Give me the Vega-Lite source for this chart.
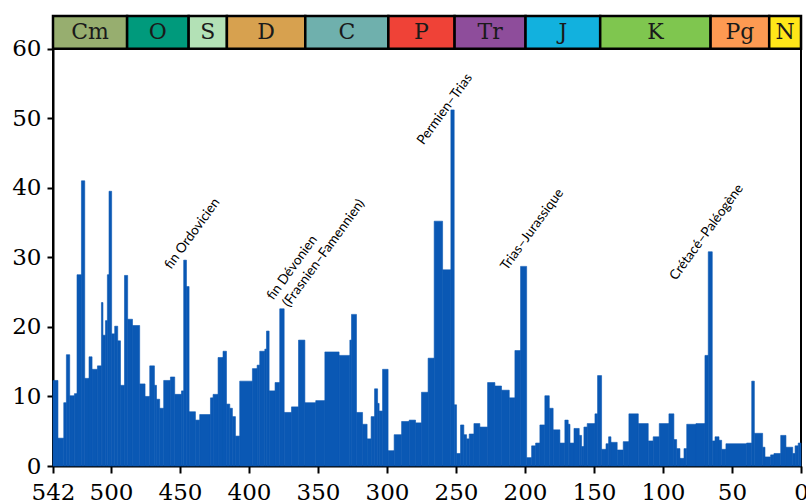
{
  "$schema": "https://vega.github.io/schema/vega-lite/v6.json",
  "width": 748,
  "height": 450,
  "autosize": "none",
  "padding": {"left": 53, "top": 16, "right": 5, "bottom": 38},
  "background": "white",
  "config": {
    "view": {"stroke": "black", "strokeWidth": 2},
    "axis": {
      "domainColor": "black", "domainWidth": 2, "tickColor": "black", "tickWidth": 2,
      "labelFont": "DejaVu Serif", "labelFontSize": 23, "labelColor": "black", "grid": false, "title": null
    }
  },
  "datasets": {
    "bars": [
      {"s":542,"e":538.4,"v":12.3},{"s":538.4,"e":534.2,"v":4.0},{"s":534.2,"e":532.3,"v":9.1},{"s":532.3,"e":529.9,"v":16.0},
      {"s":529.9,"e":526.5,"v":10.1},{"s":526.5,"e":524.6,"v":10.4},{"s":524.6,"e":521.4,"v":27.5},{"s":521.4,"e":519.0,"v":41.0},
      {"s":519.0,"e":515.9,"v":12.6},{"s":515.9,"e":513.7,"v":15.7},{"s":513.7,"e":509.8,"v":13.9},{"s":509.8,"e":506.9,"v":14.4},
      {"s":506.9,"e":505.8,"v":23.5},{"s":505.8,"e":504.0,"v":18.8},{"s":504.0,"e":502.6,"v":20.9},{"s":502.6,"e":501.4,"v":27.5},
      {"s":501.4,"e":499.5,"v":39.5},{"s":499.5,"e":497.3,"v":19.0},{"s":497.3,"e":495.1,"v":20.1},{"s":495.1,"e":493.1,"v":18.0},
      {"s":493.1,"e":490.2,"v":11.6},{"s":490.2,"e":487.9,"v":27.4},{"s":487.9,"e":484.4,"v":21.1},{"s":484.4,"e":479.2,"v":20.2},
      {"s":479.2,"e":475.3,"v":11.8},{"s":475.3,"e":471.9,"v":10.0},{"s":471.9,"e":468.5,"v":14.4},{"s":468.5,"e":467.0,"v":11.6},
      {"s":467.0,"e":464.7,"v":9.6},{"s":464.7,"e":461.8,"v":8.3},{"s":461.8,"e":456.9,"v":12.3},{"s":456.9,"e":453.8,"v":12.8},
      {"s":453.8,"e":448.9,"v":10.3},{"s":448.9,"e":447.3,"v":10.8},{"s":447.3,"e":445.3,"v":29.6},{"s":445.3,"e":443.4,"v":25.8},
      {"s":443.4,"e":438.8,"v":7.8},{"s":438.8,"e":435.7,"v":6.6},{"s":435.7,"e":427.9,"v":7.4},{"s":427.9,"e":426.0,"v":9.8},
      {"s":426.0,"e":422.4,"v":10.3},{"s":422.4,"e":418.8,"v":15.6},{"s":418.8,"e":416.3,"v":16.5},{"s":416.3,"e":413.9,"v":8.9},
      {"s":413.9,"e":412.0,"v":8.3},{"s":412.0,"e":409.8,"v":7.1},{"s":409.8,"e":406.7,"v":4.3},{"s":406.7,"e":397.5,"v":12.2},
      {"s":397.5,"e":394.1,"v":14.0},{"s":394.1,"e":392.2,"v":14.5},{"s":392.2,"e":388.5,"v":16.5},{"s":388.5,"e":387.3,"v":16.8},
      {"s":387.3,"e":385.4,"v":19.4},{"s":385.4,"e":381.1,"v":10.8},{"s":381.1,"e":377.7,"v":12.0},{"s":377.7,"e":374.5,"v":22.6},
      {"s":374.5,"e":369.2,"v":7.7},{"s":369.2,"e":364.1,"v":8.5},{"s":364.1,"e":359.5,"v":18.1},{"s":359.5,"e":351.6,"v":9.1},
      {"s":351.6,"e":345.0,"v":9.4},{"s":345.0,"e":334.7,"v":16.4},{"s":334.7,"e":326.9,"v":15.9},{"s":326.9,"e":325.7,"v":18.1},
      {"s":325.7,"e":322.1,"v":21.8},{"s":322.1,"e":317.7,"v":7.7},{"s":317.7,"e":314.4,"v":6.0},{"s":314.4,"e":311.5,"v":3.9},
      {"s":311.5,"e":309.0,"v":7.1},{"s":309.0,"e":306.8,"v":11.1},{"s":306.8,"e":305.7,"v":9.0},{"s":305.7,"e":303.2,"v":7.9},
      {"s":303.2,"e":299.2,"v":13.9},{"s":299.2,"e":294.8,"v":2.2},{"s":294.8,"e":289.4,"v":4.5},{"s":289.4,"e":283.9,"v":6.4},
      {"s":283.9,"e":279.3,"v":6.6},{"s":279.3,"e":275.0,"v":6.2},{"s":275.0,"e":270.2,"v":10.6},{"s":270.2,"e":265.8,"v":15.5},
      {"s":265.8,"e":259.7,"v":35.2},{"s":259.7,"e":253.7,"v":28.2},{"s":253.7,"e":251.3,"v":51.2},{"s":251.3,"e":249.6,"v":8.8},
      {"s":249.6,"e":246.7,"v":1.8},{"s":246.7,"e":244.3,"v":5.9},{"s":244.3,"e":242.3,"v":4.5},{"s":242.3,"e":240.4,"v":3.9},
      {"s":240.4,"e":237.0,"v":4.6},{"s":237.0,"e":232.7,"v":6.1},{"s":232.7,"e":227.1,"v":5.6},{"s":227.1,"e":221.8,"v":12.0},
      {"s":221.8,"e":217.0,"v":11.5},{"s":217.0,"e":211.4,"v":10.9},{"s":211.4,"e":207.3,"v":9.8},{"s":207.3,"e":203.2,"v":16.6},
      {"s":203.2,"e":198.8,"v":28.7},{"s":198.8,"e":195.2,"v":1.2},{"s":195.2,"e":192.3,"v":2.9},{"s":192.3,"e":189.2,"v":3.3},
      {"s":189.2,"e":185.6,"v":5.9},{"s":185.6,"e":182.4,"v":10.1},{"s":182.4,"e":179.6,"v":8.3},{"s":179.6,"e":174.7,"v":5.2},
      {"s":174.7,"e":171.1,"v":3.3},{"s":171.1,"e":168.7,"v":6.6},{"s":168.7,"e":167.4,"v":6.0},{"s":167.4,"e":164.5,"v":3.3},
      {"s":164.5,"e":160.7,"v":5.4},{"s":160.7,"e":159.0,"v":4.4},{"s":159.0,"e":157.3,"v":2.8},{"s":157.3,"e":154.9,"v":5.6},
      {"s":154.9,"e":149.3,"v":6.1},{"s":149.3,"e":147.4,"v":7.5},{"s":147.4,"e":144.5,"v":13.0},{"s":144.5,"e":141.3,"v":2.4},
      {"s":141.3,"e":139.4,"v":3.2},{"s":139.4,"e":137.7,"v":4.2},{"s":137.7,"e":133.2,"v":3.4},{"s":133.2,"e":128.8,"v":2.3},
      {"s":128.8,"e":124.7,"v":3.5},{"s":124.7,"e":117.9,"v":7.5},{"s":117.9,"e":110.7,"v":6.1},{"s":110.7,"e":107.1,"v":3.6},
      {"s":107.1,"e":102.7,"v":4.2},{"s":102.7,"e":95.7,"v":6.1},{"s":95.7,"e":92.1,"v":7.5},{"s":92.1,"e":90.1,"v":3.8},
      {"s":90.1,"e":87.7,"v":2.5},{"s":87.7,"e":84.8,"v":1.1},{"s":84.8,"e":82.8,"v":2.5},{"s":82.8,"e":76.1,"v":6.0},
      {"s":76.1,"e":69.6,"v":6.1},{"s":69.6,"e":67.2,"v":15.9},{"s":67.2,"e":64.3,"v":30.8},{"s":64.3,"e":62.3,"v":3.6},
      {"s":62.3,"e":59.4,"v":4.2},{"s":59.4,"e":57.5,"v":3.7},{"s":57.5,"e":54.4,"v":2.4},{"s":54.4,"e":39.4,"v":3.2},
      {"s":39.4,"e":35.7,"v":3.3},{"s":35.7,"e":33.8,"v":12.2},{"s":33.8,"e":27.8,"v":4.7},{"s":27.8,"e":26.1,"v":2.7},
      {"s":26.1,"e":22.0,"v":1.3},{"s":22.0,"e":19.6,"v":1.6},{"s":19.6,"e":14.7,"v":1.8},{"s":14.7,"e":10.9,"v":4.4},
      {"s":10.9,"e":6.0,"v":2.7},{"s":6.0,"e":4.3,"v":1.8},{"s":4.3,"e":2.0,"v":2.9},{"s":2.0,"e":0,"v":3.3}
    ],
    "periods": [
      {"p":"Cm","s":542,"e":488.3,"ylo":60,"yhi":64.7},{"p":"O","s":488.3,"e":443.7,"ylo":60,"yhi":64.7},{"p":"S","s":443.7,"e":416,"ylo":60,"yhi":64.7},
      {"p":"D","s":416,"e":359.2,"ylo":60,"yhi":64.7},{"p":"C","s":359.2,"e":299,"ylo":60,"yhi":64.7},{"p":"P","s":299,"e":251,"ylo":60,"yhi":64.7},
      {"p":"Tr","s":251,"e":199.6,"ylo":60,"yhi":64.7},{"p":"J","s":199.6,"e":145.5,"ylo":60,"yhi":64.7},{"p":"K","s":145.5,"e":65.5,"ylo":60,"yhi":64.7},
      {"p":"Pg","s":65.5,"e":23.03,"ylo":60,"yhi":64.7},{"p":"N","s":23.03,"e":0,"ylo":60,"yhi":64.7}
    ],
    "labels": [
      {"label":"fin Ordovicien","x":441.0,"y":33.4},
      {"label":"fin Dévonien","x":368.7,"y":28.5},
      {"label":"(Frasnien–Famennien)","x":345.8,"y":30.6},
      {"label":"Permien–Trias","x":258.1,"y":51.3},
      {"label":"Trias–Jurassique","x":194.8,"y":34.0},
      {"label":"Crétacé–Paléogène","x":68.4,"y":33.6}
    ]
  },
  "layer": [
    {
      "data": {"name": "bars"},
      "mark": {"type": "rect", "fill": "#0a58b4", "stroke": "#0a58b4", "strokeWidth": 0.6},
      "encoding": {
        "x": {"field": "s", "type": "quantitative",
              "scale": {"domain": [0, 542], "reverse": true, "nice": false, "zero": false},
              "axis": {"values": [542,500,450,400,350,300,250,200,150,100,50,0], "tickSize": 7, "labelPadding": 8, "labelFlush": false, "labelOverlap": false}},
        "x2": {"field": "e"},
        "y": {"field": "v", "type": "quantitative",
              "scale": {"domain": [0, 64.7], "nice": false},
              "axis": {"values": [0,10,20,30,40,50,60], "tickSize": 6, "labelPadding": 6}},
        "y2": {"datum": 0}
      }
    },
    {
      "data": {"name": "periods"},
      "mark": {"type": "rect", "stroke": "black", "strokeWidth": 2.5},
      "encoding": {
        "x": {"field": "s", "type": "quantitative"},
        "x2": {"field": "e"},
        "y": {"field": "ylo", "type": "quantitative"},
        "y2": {"field": "yhi"},
        "fill": {"field": "p", "type": "nominal", "legend": null,
                 "scale": {"domain": ["Cm","O","S","D","C","P","Tr","J","K","Pg","N"],
                           "range": ["#97ae6f","#009a7c","#b3e1b6","#d7a14f","#6fb0ad","#ef4237","#8e4d9b","#12b1de","#7fc64f","#fd9a52","#ffe619"]}}
      }
    },
    {
      "data": {"name": "periods"},
      "transform": [{"calculate": "(datum.s + datum.e) / 2", "as": "mid"}, {"calculate": "(datum.ylo + datum.yhi) / 2", "as": "ymid"}],
      "mark": {"type": "text", "font": "DejaVu Serif", "fontSize": 22, "color": "#1a1a1a", "baseline": "middle", "align": "center"},
      "encoding": {
        "x": {"field": "mid", "type": "quantitative"},
        "y": {"field": "ymid", "type": "quantitative"},
        "text": {"field": "p"}
      }
    },
    {
      "data": {"name": "labels"},
      "mark": {"type": "text", "font": "Lato", "fontSize": 13.5, "color": "black", "angle": -54, "align": "center", "baseline": "middle"},
      "encoding": {
        "x": {"field": "x", "type": "quantitative"},
        "y": {"field": "y", "type": "quantitative"},
        "text": {"field": "label"}
      }
    }
  ]
}
